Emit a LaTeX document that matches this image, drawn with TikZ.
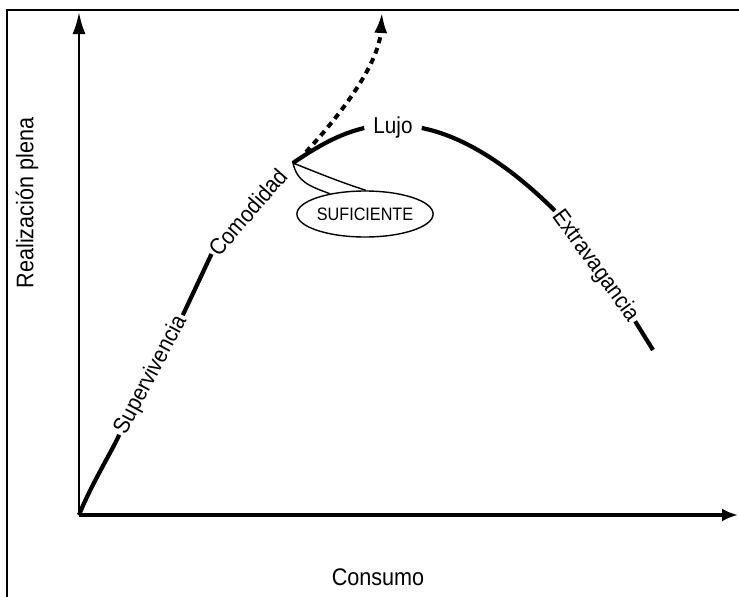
\documentclass[tikz,border=0pt]{standalone}
\usepackage{fontspec}
\setmainfont[FakeStretch=0.9]{Liberation Sans}
\usetikzlibrary{arrows.meta,shapes.geometric}
\tikzstyle{stage}=[font=\fontsize{23}{27}\selectfont,inner sep=2.5pt]
\tikzstyle{axislabel}=[font=\fontsize{24}{28}\selectfont]
\tikzstyle{curve}=[line width=4.2pt]
\tikzstyle{yaxis}=[line width=2.6pt,-{Latex[length=22pt,width=13pt]}]
\tikzstyle{xaxis}=[line width=4pt,-{Latex[length=16pt,width=13pt]}]
\tikzstyle{excess}=[line width=4pt,dash pattern=on 6pt off 5pt,-{Latex[length=21pt,width=13pt]}]
\tikzstyle{balloon}=[draw,ellipse,line width=1.4pt,minimum width=118pt,minimum height=46pt,inner sep=0pt,font=\fontsize{18}{21}\selectfont]

\begin{document}
\begin{tikzpicture}[x=1pt,y=-1pt]
\useasboundingbox (0,0) rectangle (739,597);
\draw[line width=1.2pt] (7,597) -- (7,10) -- (739,10);

\coordinate (O) at (79,515);
\coordinate (ytop) at (79,12);
\coordinate (xend) at (738,515);
\draw[yaxis] (O) -- (ytop);
\draw[xaxis] (O) -- (xend);
\node[axislabel,rotate=90] (ylab) at (27,203) {Realización plena};
\node[axislabel] (xlab) at (378,577) {Consumo};

\node[stage,rotate=62] (sup) at (151,375) {Supervivencia};
\node[stage,rotate=49] (com) at (248,212) {Comodidad};
\node[stage,inner xsep=9pt] (lujo) at (393,128) {Lujo};
\node[stage,rotate=-54] (ext) at (595,266) {Extravagancia};
\coordinate (T) at (293,163);
\coordinate (E) at (653,350);
\coordinate (fork) at (306,152);
\coordinate (top) at (382,12);

\draw[curve] (O) .. controls +(12,-30) and +(-6,14) .. (sup.west);
\draw[curve] (sup.east) -- (com.west);
\draw[curve] (T) .. controls +(25,-17) and +(-25,6) .. (lujo.west);
\draw[curve] (lujo.east) .. controls +(50,10) and +(-35,-35) .. (ext.west);
\draw[curve] (ext.east) -- (E);
\draw[excess] (fork) .. controls (345,110) and (379,62) .. (top);

\node[balloon] (suf) at (365,214) {SUFICIENTE};
\draw[line width=1.4pt] (suf.150) .. controls +(-22,-8) and +(4,18) .. (T)
  .. controls +(25,10) and +(-25,-8) .. (suf.88);
\end{tikzpicture}
\end{document}
